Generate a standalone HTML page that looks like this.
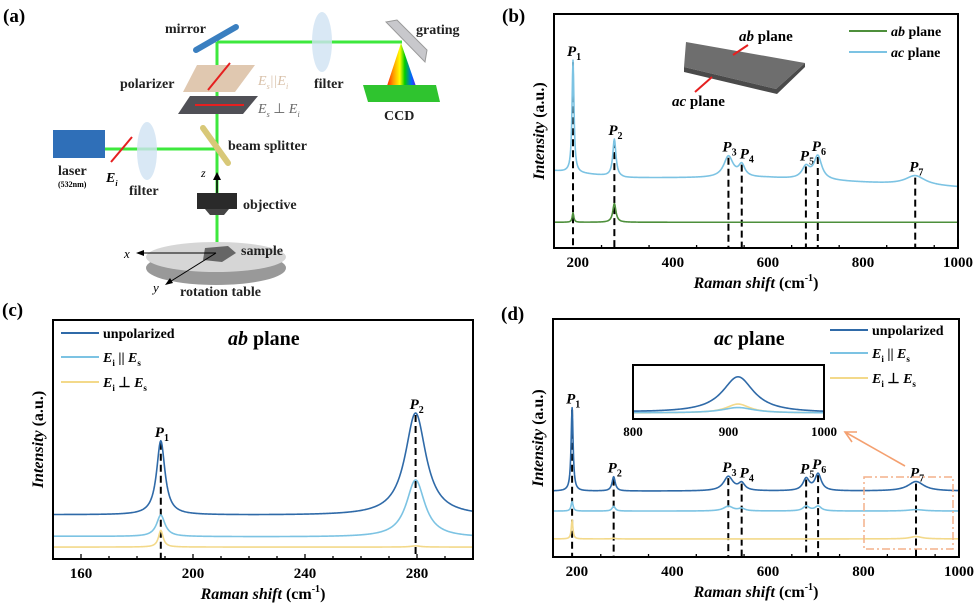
<!DOCTYPE html>
<html><head><meta charset="utf-8"><style>
body{margin:0;background:#fff;}
svg{display:block;font-family:"Liberation Serif",serif;}
.t{font-weight:bold;}
</style></head><body>
<svg id="fig" width="976" height="604" viewBox="0 0 976 604">
<!-- Panel (a) diagram -->
<g>
<text x="3" y="22" class="t" font-size="19">(a)</text>
<line x1="217" y1="42" x2="402" y2="42" stroke="#3de83d" stroke-width="3"/>
<line x1="217" y1="42" x2="217" y2="256" stroke="#3de83d" stroke-width="3"/>
<line x1="105" y1="149" x2="217" y2="149" stroke="#3de83d" stroke-width="3"/>
<line x1="196" y1="50" x2="236" y2="27" stroke="#3a7fc0" stroke-width="6" stroke-linecap="round"/>
<ellipse cx="322" cy="42" rx="10" ry="30" fill="#cfe2f3" opacity="0.8"/>
<polygon points="386,22 397,20 427,50 425,62" fill="#c8c8cc" stroke="#999"/>
<defs><linearGradient id="rb" x1="0" x2="1"><stop offset="0" stop-color="#ff0000"/><stop offset="0.25" stop-color="#ff9900"/><stop offset="0.45" stop-color="#ffff00"/><stop offset="0.6" stop-color="#00cc00"/><stop offset="0.8" stop-color="#0066ff"/><stop offset="1" stop-color="#8800cc"/></linearGradient></defs>
<polygon points="401,43 385,92 418,92" fill="url(#rb)"/>
<polygon points="363,85 436,85 440,102 368,102" fill="#2fc42f"/>
<polygon points="197,65 255,65 235,92 183,92" fill="#e0c8b0"/>
<line x1="208" y1="90" x2="230" y2="63" stroke="#e52020" stroke-width="2"/>
<polygon points="190,96 258,96 243,114 178,114" fill="#505056"/>
<line x1="195" y1="105" x2="244" y2="105" stroke="#e52020" stroke-width="2"/>
<rect x="53" y="130" width="52" height="28" fill="#2f6fb8"/>
<line x1="111" y1="162" x2="132" y2="137" stroke="#e52020" stroke-width="2"/>
<ellipse cx="147" cy="151" rx="10" ry="29" fill="#cfe2f3" opacity="0.8"/>
<line x1="203" y1="128" x2="228" y2="163" stroke="#d8c878" stroke-width="6" stroke-linecap="round"/>
<line x1="217" y1="196" x2="217" y2="176" stroke="#000" stroke-width="1.5"/>
<polygon points="213,180 221,180 217,172" fill="#000"/>
<rect x="197" y="193" width="40" height="16" fill="#2a2a2a"/>
<polygon points="205,209 229,209 224,215 210,215" fill="#444"/>
<ellipse cx="216" cy="268" rx="70" ry="17" fill="#999"/>
<ellipse cx="216" cy="257" rx="70" ry="15" fill="#d6d6d6"/>
<polygon points="205,248 228,246 236,253 222,262 203,260" fill="#666"/>
<line x1="216" y1="253" x2="140" y2="253" stroke="#000" stroke-width="1"/><polygon points="136,253 144,250 144,256" fill="#000"/>
<line x1="216" y1="253" x2="168" y2="283" stroke="#000" stroke-width="1"/><polygon points="165,285 170,278 173,283" fill="#000"/>
<g class="t" font-size="14" fill="#222">
<text x="165" y="33">mirror</text><text x="416" y="34">grating</text>
<text x="120" y="88">polarizer</text><text x="314" y="88">filter</text>
<text x="384" y="120">CCD</text><text x="228" y="150">beam splitter</text>
<text x="58" y="175">laser</text><text x="129" y="195">filter</text>
<text x="243" y="209">objective</text><text x="241" y="255">sample</text>
<text x="180" y="296">rotation table</text>
</g>
<text x="58" y="187" font-size="8" class="t">(532nm)</text>
<text x="258" y="85" font-size="14" font-style="italic" fill="#d8c0a8">E<tspan font-size="8" dy="4">s</tspan><tspan dy="-4">||</tspan>E<tspan font-size="8" dy="4">i</tspan></text>
<text x="258" y="113" font-size="14" font-style="italic" fill="#666">E<tspan font-size="8" dy="4">s</tspan><tspan dy="-4" font-style="normal"> ⊥ </tspan>E<tspan font-size="8" dy="4">i</tspan></text>
<text x="106" y="182" font-size="14" font-style="italic" class="t">E<tspan font-size="8" dy="4">i</tspan></text>
<text x="201" y="177" font-size="12" font-style="italic">z</text>
<text x="124" y="258" font-size="13" font-style="italic">x</text>
<text x="153" y="292" font-size="13" font-style="italic">y</text>
</g>
<g id="charts"></g>
</svg>
<script>
// ---- Panel (b) data ----
const bPeakPos=[190,277,517,545,680,705,910];
const bPeakLabels=["1","2","3","4","5","6","7"];
const bAcAmp=[48,16,9,5,5,10,4];
const bAcWid=[2.5,4,12,8,10,10,25];
const bAbAmp=[4,8,0,0,0,0,0];
const bAbWid=[2,4,10,8,10,10,20];
const bBaseX=[150,300,600,1000];
const bAcBase=[33,30,30,26];
const bAbBase=[11,11,11,11];
const bTicks=[200,400,600,800,1000];
// ---- Panel (c) data ----
const cPeakPos=[188.5,279.5];
const cPeakLabels=["1","2"];
const cUnpAmp=[31,43];
const cUnpWid=[1.8,4.5];
const cParAmp=[9,24];
const cParWid=[1.8,4];
const cPerAmp=[7,0.5];
const cPerWid=[1,2];
const cBaseX=[150,300];
const cUnpBase=[18.5,18];
const cParBase=[9.5,9];
const cPerBase=[5,5];
const cTicks=[160,200,240,280];
// ---- Panel (d) data ----
const dPeakPos=[190,277,517,545,680,705,910];
const dUnpAmp=[35,6,6,3,5,7,4];
const dUnpWid=[2.5,4,12,8,8,8,20];
const dParAmp=[4,2,2,1,2,2,0.6];
const dParWid=[2.5,4,12,8,8,8,20];
const dPerAmp=[8,0.3,0,0,0,0,1];
const dPerWid=[2,4,10,8,8,8,15];
const dBaseX=[150,1000];
const dUnpBase=[27.7,27.7];
const dParBase=[19.3,19.3];
const dPerBase=[7.6,7.6];
const dTicks=[200,400,600,800,1000];
const insetTicks=[800,900,1000];

const NS="http://www.w3.org/2000/svg";
const root=document.getElementById('charts');
function mk(tag,attrs,parent){const e=document.createElementNS(NS,tag);for(const k in attrs)e.setAttribute(k,attrs[k]);(parent||root).appendChild(e);return e;}
function interp(xs,ys,x){if(x<=xs[0])return ys[0];for(let i=1;i<xs.length;i++){if(x<=xs[i]){const t=(x-xs[i-1])/(xs[i]-xs[i-1]);return ys[i-1]+t*(ys[i]-ys[i-1]);}}return ys[ys.length-1];}
function val(x,pos,amp,wid,bx,by){let v=interp(bx,by,x);for(let i=0;i<pos.length;i++){const u=(x-pos[i])/wid[i];v+=amp[i]/(1+u*u);}return v;}
function axes(b){b.sx=v=>b.x0+(v-b.xmin)/(b.xmax-b.xmin)*(b.x1-b.x0);b.sy=v=>b.y1-v/100*(b.y1-b.y0);return b;}
function curvePath(b,pos,amp,wid,bx,by,color,name,x0,x1,step){
  let d="";const a=x0!==undefined?x0:b.xmin,e=x1!==undefined?x1:b.xmax;
  for(let x=a;x<=e+1e-9;x+=step){const y=b.sy(val(x,pos,amp,wid,bx,by));d+=(d?"L":"M")+b.sx(x).toFixed(2)+","+Math.max(b.y0+1,Math.min(b.y1-1,y)).toFixed(2);}
  const p=mk('path',{d:d,fill:"none",stroke:color,"stroke-width":1.6,"stroke-linejoin":"round"});
  
  
  return p;
}
function frame(b,ticks,minorStep,name){
  const r=mk('rect',{x:b.x0,y:b.y0,width:b.x1-b.x0,height:b.y1-b.y0,fill:"none",stroke:"#000","stroke-width":2});
  
  
  for(let v=b.xmin;v<=b.xmax;v+=minorStep){const x=b.sx(v);const maj=ticks.indexOf(v)>=0;mk('line',{x1:x,x2:x,y1:b.y1,y2:b.y1-(maj?5:3),stroke:"#000","stroke-width":1.3});}
  ticks.forEach(t=>{const tx=mk('text',{x:b.sx(t),y:b.y1+19,"text-anchor":"middle","font-size":15,"font-weight":"bold"});tx.textContent=t;
    
    });
  const xt=mk('text',{x:(b.x0+b.x1)/2,y:b.y1+40,"text-anchor":"middle","font-size":16,"font-weight":"bold"});
  xt.innerHTML='<tspan font-style="italic">Raman shift</tspan> (cm<tspan font-size="10" dy="-7">-1</tspan><tspan dy="7">)</tspan>';
  
  
  const yc=(b.y0+b.y1)/2;
  const yt=mk('text',{x:b.x0-10,y:yc,"text-anchor":"middle","font-size":16,"font-weight":"bold",transform:`rotate(-90 ${b.x0-10} ${yc})`});
  yt.innerHTML='<tspan font-style="italic">Intensity</tspan> (a.u.)';
  
  
}
function peakLabel(b,x,yTop,sub,dx){
  const l=mk('line',{x1:b.sx(x),x2:b.sx(x),y1:yTop,y2:b.y1,stroke:"#000","stroke-width":2,"stroke-dasharray":"7,4"});
  
  
  const t=mk('text',{x:b.sx(x)-6+(dx||0),y:yTop-6,"font-size":15,"font-weight":"bold","font-style":"italic"});
  t.innerHTML='P<tspan font-size="10" font-style="normal" dy="4">'+sub+'</tspan>';
  
  
}
function legend(x,y,color,html,name){
  const l=mk('line',{x1:x,x2:x+38,y1:y,y2:y,stroke:color,"stroke-width":2});
  
  
  const t=mk('text',{x:x+42,y:y+5,"font-size":14,"font-weight":"bold"});t.innerHTML=html;
  
  
}
const DB="#2f6aa8",LB="#7cc3e3",YL="#f3d98a",GR="#4d8f3b";
const EPAR='<tspan font-style="italic">E</tspan><tspan font-size="9" dy="4">i</tspan><tspan dy="-4"> || </tspan><tspan font-style="italic">E</tspan><tspan font-size="9" dy="4">s</tspan>';
const EPER='<tspan font-style="italic">E</tspan><tspan font-size="9" dy="4">i</tspan><tspan dy="-4"> ⊥ </tspan><tspan font-style="italic">E</tspan><tspan font-size="9" dy="4">s</tspan>';

// Panel b
const B=axes({x0:554,x1:958,y0:14,y1:248,xmin:150,xmax:1000});
mk('text',{x:502,y:22,"font-size":19,"font-weight":"bold"}).textContent="(b)";
bPeakPos.forEach((p,i)=>{const top=B.sy(val(p,bPeakPos,bAcAmp,bAcWid,bBaseX,bAcBase));peakLabel(B,p,top+2,bPeakLabels[i],i==3?4:0);});
curvePath(B,bPeakPos,bAbAmp,bAbWid,bBaseX,bAbBase,GR,"ab-plane-line",undefined,undefined,1);
curvePath(B,bPeakPos,bAcAmp,bAcWid,bBaseX,bAcBase,LB,"ac-plane-line",undefined,undefined,1);
frame(B,bTicks,100,"panel-b");
legend(849,31,GR,'<tspan font-style="italic">ab</tspan> plane',"legend-ab-plane");
legend(849,52,LB,'<tspan font-style="italic">ac</tspan> plane',"legend-ac-plane");
// crystal inset
const cr=mk('polygon',{points:"686,42 805,63 776,89 684,67",fill:"#6e6e6e"});

mk('polygon',{points:"684,67 776,89 805,63 805,67 777,94 684,72",fill:"#4a4a4a"});
mk('line',{x1:748,y1:45,x2:733,y2:55,stroke:"#e52020","stroke-width":2});
mk('line',{x1:695,y1:92,x2:712,y2:77,stroke:"#e52020","stroke-width":2});
let t1=mk('text',{x:739,y:41,"font-size":15,"font-weight":"bold"});t1.innerHTML='<tspan font-style="italic">ab</tspan> plane';
let t2=mk('text',{x:672,y:106,"font-size":15,"font-weight":"bold"});t2.innerHTML='<tspan font-style="italic">ac</tspan> plane';

// Panel c
const C=axes({x0:53,x1:473,y0:320,y1:559,xmin:150,xmax:300});
mk('text',{x:2,y:316,"font-size":19,"font-weight":"bold"}).textContent="(c)";
cPeakPos.forEach((p,i)=>{const top=C.sy(val(p,cPeakPos,cUnpAmp,cUnpWid,cBaseX,cUnpBase));peakLabel(C,p,top+2,cPeakLabels[i]);});
curvePath(C,cPeakPos,cPerAmp,cPerWid,cBaseX,cPerBase,YL,"perpendicular-line",undefined,undefined,0.25);
curvePath(C,cPeakPos,cParAmp,cParWid,cBaseX,cParBase,LB,"parallel-line",undefined,undefined,0.25);
curvePath(C,cPeakPos,cUnpAmp,cUnpWid,cBaseX,cUnpBase,DB,"unpolarized-line",undefined,undefined,0.25);
frame(C,cTicks,10,"panel-c");
legend(61,333,DB,'unpolarized',"legend-unpolarized");
legend(61,357,LB,EPAR,"legend-parallel");
legend(61,382,YL,EPER,"legend-perpendicular");
let ct=mk('text',{x:228,y:345,"font-size":20,"font-weight":"bold"});ct.innerHTML='<tspan font-style="italic">ab</tspan> plane';

// Panel d
const D=axes({x0:553,x1:959,y0:319,y1:557,xmin:150,xmax:1000});
mk('text',{x:501,y:320,"font-size":19,"font-weight":"bold"}).textContent="(d)";
dPeakPos.forEach((p,i)=>{const top=D.sy(val(p,dPeakPos,dUnpAmp,dUnpWid,dBaseX,dUnpBase));peakLabel(D,p,top+2,bPeakLabels[i],i==3?4:0);});
curvePath(D,dPeakPos,dPerAmp,dPerWid,dBaseX,dPerBase,YL,"d-perpendicular-line",undefined,undefined,1);
curvePath(D,dPeakPos,dParAmp,dParWid,dBaseX,dParBase,LB,"d-parallel-line",undefined,undefined,1);
curvePath(D,dPeakPos,dUnpAmp,dUnpWid,dBaseX,dUnpBase,DB,"d-unpolarized-line",undefined,undefined,1);
frame(D,dTicks,100,"panel-d");
legend(830,330,DB,'unpolarized',"d-legend-unpolarized");
legend(830,353,LB,EPAR,"d-legend-parallel");
legend(830,378,YL,EPER,"d-legend-perpendicular");
let dt=mk('text',{x:714,y:345,"font-size":20,"font-weight":"bold"});dt.innerHTML='<tspan font-style="italic">ac</tspan> plane';
const zb=mk('rect',{x:864,y:477,width:89,height:72,fill:"none",stroke:"#f4b08a","stroke-width":1.5,"stroke-dasharray":"8,3,2,3"});

const ar=mk('line',{x1:905,y1:466,x2:845,y2:432,stroke:"#f4a070","stroke-width":1.6});

mk('polyline',{points:"857,432 845,432 852,442",fill:"none",stroke:"#f4a070","stroke-width":1.6});
// inset: baselines subtracted, scaled
const I={x0:633,x1:824,y0:365,y1:419,xmin:800,xmax:1000};
I.sx=v=>I.x0+(v-I.xmin)/(I.xmax-I.xmin)*(I.x1-I.x0);
const insetScale=9;
function insetPath(amp,wid,base,color,name,off){
  let d="";for(let x=800;x<=1000;x+=1){const v=val(x,dPeakPos,amp,wid,dBaseX,base)-base[0];const y=I.y1-6-off-v*insetScale;d+=(d?"L":"M")+I.sx(x).toFixed(2)+","+y.toFixed(2);}
  const p=mk('path',{d:d,fill:"none",stroke:color,"stroke-width":1.6});
  
  
}
insetPath(dPerAmp,dPerWid,dPerBase,YL,"inset-perpendicular-line",0);
insetPath(dParAmp,dParWid,dParBase,LB,"inset-parallel-line",0);
insetPath(dUnpAmp,dUnpWid,dUnpBase,DB,"inset-unpolarized-line",0);
const ir=mk('rect',{x:I.x0,y:I.y0,width:I.x1-I.x0,height:I.y1-I.y0,fill:"none",stroke:"#000","stroke-width":2});

insetTicks.forEach(t=>{const tx=mk('text',{x:I.sx(t),y:I.y1+17,"text-anchor":"middle","font-size":13,"font-weight":"bold"});tx.textContent=t;
  
  });
</script>
</body></html>
